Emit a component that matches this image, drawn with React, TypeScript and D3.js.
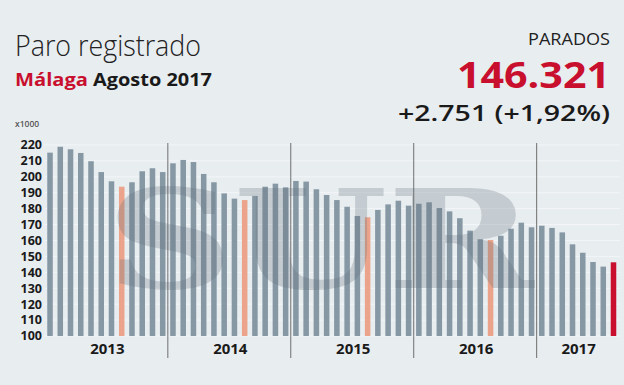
import React from 'react';
import * as d3 from 'd3';

// paro registrado Málaga, miles, enero 2013 - agosto 2017
const years = ['2013', '2014', '2015', '2016', '2017'];
const months = ['ene', 'feb', 'mar', 'abr', 'may', 'jun', 'jul', 'ago', 'sep', 'oct', 'nov', 'dic'];
const paro = [
  215.2, 218.9, 217.3, 215.0, 209.8, 203.0, 197.2, 193.8, 196.6, 203.5, 205.4, 203.0,
  208.5, 210.6, 209.3, 201.8, 196.6, 189.6, 186.3, 185.4, 188.0, 193.8, 195.7, 193.4,
  197.4, 197.0, 192.2, 188.6, 185.4, 181.2, 175.4, 174.6, 179.2, 182.7, 185.0, 181.9,
  183.1, 184.0, 180.4, 178.3, 174.0, 166.2, 160.8, 160.3, 163.0, 167.4, 171.2, 168.3,
  169.3, 167.9, 165.1, 157.6, 152.3, 146.5, 143.6, 146.3
];
const yTicks = [100, 110, 120, 130, 140, 150, 160, 170, 180, 190, 200, 210, 220];

const width = 624;
const height = 385;

const colorBar = '#8798a5';
const colorAgosto = '#eba48b';
const colorActual = '#c8102e';

const App = () => {
  const data = paro.map((v, i) => ({
    i,
    value: v,
    year: years[Math.floor(i / 12)],
    month: months[i % 12]
  }));

  const x = d3.scaleBand<number>()
    .domain(data.map(d => d.i))
    .range([44.9, 44.9 + 56 * 10.245])
    .paddingInner(0.46)
    .paddingOuter(0.23);

  const y = d3.scaleLinear()
    .domain([100, 220])
    .range([336, 145]);

  const step = x.step();
  const start = x.range()[0];

  const barColor = (d) => {
    if (d.i === data.length - 1) return colorActual;
    if (d.month === 'ago') return colorAgosto;
    return colorBar;
  };

  return (
    <svg width={width} height={height} style={{ position: 'fixed', left: 0, top: 0 }}
      fontFamily="'Open Sans', 'Noto Sans', sans-serif">
      <rect width={width} height={height} fill='#e8edf0' />

      {/* rejilla suave */}
      {yTicks.map(t =>
        <line key={`grid-${t}`} x1={44} x2={620} y1={y(t)} y2={y(t)} stroke='#f3f6f8' strokeWidth={1} />
      )}

      {/* cabecera */}
      <text x={15} y={56} fontSize={30} fontWeight={300} fill='#222' textLength={186} lengthAdjust='spacingAndGlyphs'>Paro registrado</text>
      <text x={15} y={86} fontSize={17} fontWeight={700} fill={colorActual} textLength={73} lengthAdjust='spacingAndGlyphs'>Málaga</text>
      <text x={93} y={86} fontSize={17} fontWeight={700} fill='#1a1a1a' textLength={119} lengthAdjust='spacingAndGlyphs'>Agosto 2017</text>
      <text x={15} y={127} fontSize={8.5} fontWeight={600} fill='#555'>x1000</text>

      <text x={610} y={45} fontSize={16} textAnchor='end' fill='#222' textLength={82} lengthAdjust='spacingAndGlyphs'>PARADOS</text>
      <text x={610} y={88} fontSize={35} fontWeight={700} textAnchor='end' fill={colorActual} textLength={153} lengthAdjust='spacingAndGlyphs'>146.321</text>
      <text x={610} y={121} fontSize={22} fontWeight={600} textAnchor='end' fill='#1a1a1a' textLength={212} lengthAdjust='spacingAndGlyphs'>+2.751 (+1,92%)</text>

      {/* eje y */}
      {yTicks.map(t =>
        <text key={`tick-${t}`} x={42} y={y(t)} dy='0.35em' fontSize={12.5} fontWeight={700} textAnchor='end' fill='#1a1a1a'>{t}</text>
      )}

      {/* barras */}
      {data.map(d =>
        <rect key={`bar-${d.i}`} x={x(d.i)} y={y(d.value)} width={x.bandwidth()} height={y(100) - y(d.value)} fill={barColor(d)} />
      )}

      {/* separadores de año */}
      {years.slice(1).map((yr, k) =>
        <line key={`sep-${yr}`} x1={start + (k + 1) * 12 * step} x2={start + (k + 1) * 12 * step} y1={143} y2={358} stroke='#6f6f6f' strokeWidth={1} />
      )}

      {/* etiquetas de año */}
      {years.map((yr, k) => {
        const idx = data.filter(d => d.year === yr).map(d => d.i);
        const cx = (x(idx[0]) + x(idx[idx.length - 1]) + x.bandwidth()) / 2;
        return <text key={`year-${yr}`} x={cx + 1} y={354} fontSize={15} fontWeight={700} textAnchor='middle' fill='#1a1a1a'>{yr}</text>;
      })}

      {/* marca de agua */}
      <text x={106} y={288} fontSize={136} fontWeight={700} fontFamily="'DejaVu Serif', 'Liberation Serif', serif"
        fill='#5d6c77' opacity={0.25} textLength={428} lengthAdjust='spacingAndGlyphs'>SUR</text>
    </svg>
  );
};

export default App;
